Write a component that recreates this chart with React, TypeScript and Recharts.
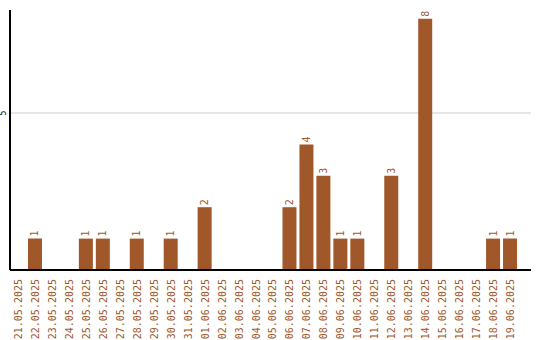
import React from 'react';
import { BarChart, Bar, XAxis, YAxis, CartesianGrid, LabelList } from 'recharts';

const DATES = [
  '21.05.2025', '22.05.2025', '23.05.2025', '24.05.2025', '25.05.2025', '26.05.2025',
  '27.05.2025', '28.05.2025', '29.05.2025', '30.05.2025', '31.05.2025', '01.06.2025',
  '02.06.2025', '03.06.2025', '04.06.2025', '05.06.2025', '06.06.2025', '07.06.2025',
  '08.06.2025', '09.06.2025', '10.06.2025', '11.06.2025', '12.06.2025', '13.06.2025',
  '14.06.2025', '15.06.2025', '16.06.2025', '17.06.2025', '18.06.2025', '19.06.2025',
];
const COUNTS = [0, 1, 0, 0, 1, 1, 0, 1, 0, 1, 0, 2, 0, 0, 0, 0, 2, 4, 3, 1, 1, 0, 3, 0, 8, 0, 0, 0, 1, 1];
const Y_TICKS = [5];

const data = DATES.map((d, i) => ({ date: d, count: COUNTS[i] }));

const BROWN = '#a0572a';
const MONO = '"DejaVu Sans Mono", monospace';

const DateTick = ({ x, y, payload }: any) => (
  <text
    x={x}
    y={y + 7}
    transform={`rotate(-90 ${x} ${y + 7})`}
    textAnchor="end"
    dominantBaseline="central"
    fill={BROWN}
    fontSize={10}
    fontFamily={MONO}
  >
    {payload.value}
  </text>
);

const ValueTick = ({ y, payload }: any) => (
  <text
    x={4}
    y={y}
    transform={`rotate(-90 4 ${y})`}
    textAnchor="middle"
    dominantBaseline="central"
    fill="#000"
    fontSize={8}
    fontFamily={MONO}
  >
    {payload.value}
  </text>
);

const BarLabel = (props: any) => {
  const { x, y, width, value } = props;
  if (!value) return null;
  const cx = x + width / 2;
  const ty = y - 2;
  return (
    <text
      x={cx}
      y={ty}
      transform={`rotate(-90 ${cx} ${ty})`}
      textAnchor="start"
      dominantBaseline="central"
      fill={BROWN}
      fontSize={10}
      fontFamily={MONO}
    >
      {value}
    </text>
  );
};

export default function App() {
  return (
    <div style={{ position: 'fixed', left: 0, top: 0, width: 540, height: 340, background: '#fff' }}>
      <BarChart
        width={540}
        height={340}
        data={data}
        margin={{ top: 10, right: 9, bottom: 0, left: 0 }}
        barSize={14}
      >
        <CartesianGrid stroke="#cccccc" vertical={false} horizontalValues={Y_TICKS} />
        <XAxis
          dataKey="date"
          interval={0}
          height={70}
          tickLine={false}
          tickSize={0}
          axisLine={{ stroke: '#000', strokeWidth: 2 }}
          padding={{ left: 0, right: 12 }}
          tick={<DateTick />}
        />
        <YAxis
          width={10}
          domain={[0, 8.28]}
          ticks={Y_TICKS}
          tickLine={false}
          axisLine={{ stroke: '#000', strokeWidth: 2 }}
          tick={<ValueTick />}
        />
        <Bar dataKey="count" fill={BROWN} isAnimationActive={false}>
          <LabelList dataKey="count" content={<BarLabel />} />
        </Bar>
      </BarChart>
    </div>
  );
}
